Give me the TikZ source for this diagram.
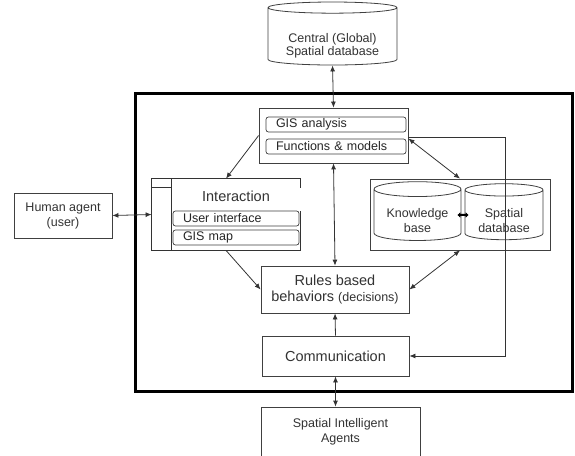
\documentclass[tikz,border=0pt]{standalone}
\usepackage{fontspec}
\setmainfont{Liberation Sans}
\usetikzlibrary{arrows.meta,shapes.geometric}
\newcommand{\arw}{-{Latex[length=6pt,width=5pt]}}
\newcommand{\darw}{{Latex[length=6pt,width=5pt]}-{Latex[length=6pt,width=5pt]}}
\newcommand{\bigtxt}{\fontsize{14.5}{16}\selectfont}
\newcommand{\smalltxt}{\fontsize{12.5}{15}\selectfont}

\begin{document}
\begin{tikzpicture}[x=1pt,y=-1pt,
  box/.style={draw=black!75,line width=.8pt,fill=white,text=black!80,align=center,inner sep=0pt,font=\bigtxt},
  sub/.style={draw=black!75,line width=.7pt,rounded corners=2.5pt,text=black!85,inner xsep=10pt,inner ysep=0pt,
    text width=#1,align=left,minimum height=15pt,font=\smalltxt},
  db/.style={cylinder,shape border rotate=90,draw=black!75,line width=.8pt,fill=white,text=black!80,
    align=center,inner sep=0pt,font=\smalltxt},
  edge/.style={draw=black!80,line width=.8pt},
  frame/.style={draw=black,line width=3pt,inner sep=0pt}]
\useasboundingbox (0,0) rectangle (575,455);
%agent frame
\node[frame,minimum width=437,minimum height=298] (agent) at (353.5,242) {};
%outside the agent
\node[db,minimum width=129,minimum height=63,aspect=.12] (cdb) at (332.5,36.5) {\rule{0pt}{27pt}Central (Global)\\[-2pt]Spatial database};
\node[box,font=\smalltxt,minimum width=98,minimum height=45] (human) at (63,215.5) {Human agent\\(user)};
\node[box,font=\smalltxt,minimum width=159,minimum height=50] (agents) at (340.5,432) {Spatial Intelligent\\Agents};
%GIS analysis
\node[box,minimum width=149,minimum height=55] (gis) at (333.5,135.5) {};
\node[sub=120pt] (gisA) at (336,124.5) {GIS analysis};
\node[sub=120pt] (gisF) at (336,146.5) {Functions \& models};
%interaction
\node[box,draw=none,minimum width=148,minimum height=71] (inter) at (226,214.5) {};
\draw[edge] ([yshift=-9pt]inter.north east) -- (inter.north east) -- (inter.north west)
  -- (inter.south west) -- (inter.south east) -- (inter.south east |- 0,211);
\draw[edge] ([xshift=20pt]inter.north west) -- ([xshift=20pt]inter.south west);
\draw[edge] ([yshift=-9pt]inter.north west) -- ([xshift=20pt,yshift=-9pt]inter.north west);
\node[text=black!80,font=\bigtxt] (intertitle) at (236,196) {Interaction};
\node[sub=106pt] (ui) at (236,218.5) {User interface};
\node[sub=106pt] (map) at (236,237.5) {GIS map};
%databases
\node[box,minimum width=180,minimum height=71] (dbs) at (460,214.5) {};
\node[db,minimum width=87,minimum height=56,aspect=.24] (kb) at (417.5,215) {\rule{0pt}{21pt}Knowledge\\base};
\node[db,minimum width=78,minimum height=56,aspect=.24] (sdb) at (504,215) {\rule{0pt}{21pt}Spatial\\database};
%rules and communication
\node[box,minimum width=148,minimum height=47] (rules) at (335,289.5) {Rules based\\behaviors {\smalltxt(decisions)}};
\node[box,minimum width=147,minimum height=40] (comm) at (335.5,356) {Communication};
\coordinate (bend) at (505,137);
%connectors
\draw[edge,\darw] (cdb.south) -- (gis.north);
\draw[edge,\darw] (human.east) -- (inter.west);
\draw[edge,\arw] (gis.west) -- (inter.north);
\draw[edge,\arw] (inter.south) -- (rules.west);
\draw[edge,\darw] (gis.south) -- (rules.north);
\draw[edge,\darw] ([yshift=-3pt]gis.east) -- (dbs.north);
\draw[edge,\darw] (dbs.south) -- (rules.east);
\draw[edge,\arw] (comm.north) -- (rules.south);
\draw[edge,\darw] (comm.south) -- (comm.south |- agents.north);
\draw[line width=2pt,{Latex[length=3pt,width=6pt]}-{Latex[length=3pt,width=6pt]}] ([xshift=-4pt]kb.east) -- ([xshift=4pt]sdb.west);
\draw[edge,\arw] (gis.east |- bend) -- (bend) |- (comm.east);
\end{tikzpicture}
\end{document}
